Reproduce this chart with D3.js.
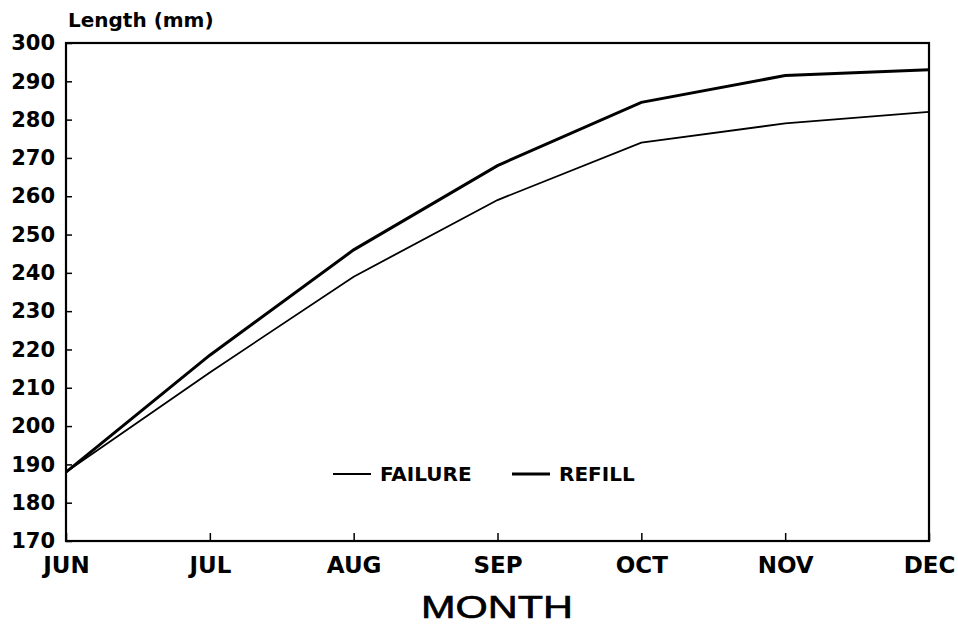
<!DOCTYPE html>
<html>
<head>
<meta charset="utf-8">
<script src="https://cdn.jsdelivr.net/npm/d3@7"></script>
<style>
  body { margin: 0; background: #fff; }
  svg { display: block; }
</style>
</head>
<body>
<div id="areaDibujo"></div>
<script>
// datos
var meses = ['JUN', 'JUL', 'AUG', 'SEP', 'OCT', 'NOV', 'DEC'];
var failure = [188, 214, 239, 259, 274, 279, 282];
var refill = [188, 218.5, 246, 268, 284.5, 291.5, 293];
var yTicks = [170, 180, 190, 200, 210, 220, 230, 240, 250, 260, 270, 280, 290, 300];

var width = 958;
var height = 624;
var xIni = 66, xFin = 929, yIni = 43, yFin = 541;
var fuente = '"DejaVu Sans", Arial, sans-serif';

var svg = d3.select('#areaDibujo').append('svg')
  .attr('width', width)
  .attr('height', height);

var x = d3.scalePoint().domain(meses).range([xIni, xFin]);
var y = d3.scaleLinear().domain([170, 300]).range([yFin, yIni]);

// eje y
var ejeY = svg.append('g')
  .attr('transform', 'translate(' + xIni + ',0)')
  .call(d3.axisLeft(y).tickValues(yTicks).tickSizeInner(-6).tickSizeOuter(0).tickPadding(11));
ejeY.select('.domain').remove();
ejeY.selectAll('line').attr('stroke', '#000').attr('stroke-width', 1.5);
ejeY.selectAll('text')
  .attr('fill', '#000')
  .style('font-family', fuente)
  .style('font-weight', 'bold')
  .style('font-size', '21px');

// eje x
var ejeX = svg.append('g')
  .attr('transform', 'translate(0,' + yFin + ')')
  .call(d3.axisBottom(x).tickSizeInner(-8).tickSizeOuter(0).tickPadding(16));
ejeX.select('.domain').remove();
ejeX.selectAll('line').attr('stroke', '#000').attr('stroke-width', 1.5);
ejeX.selectAll('text')
  .attr('fill', '#000')
  .style('font-family', fuente)
  .style('font-weight', 'bold')
  .style('font-size', '23px');

// marco
svg.append('rect')
  .attr('x', xIni).attr('y', yIni)
  .attr('width', xFin - xIni).attr('height', yFin - yIni)
  .attr('fill', 'none')
  .attr('stroke', '#000')
  .attr('stroke-width', 2.2);

var linea = d3.line()
  .x(function(d, i) { return x(meses[i]); })
  .y(function(d) { return y(d); });

svg.append('path')
  .datum(failure)
  .attr('d', linea)
  .attr('fill', 'none')
  .attr('stroke', '#000')
  .attr('stroke-width', 1.8);

svg.append('path')
  .datum(refill)
  .attr('d', linea)
  .attr('fill', 'none')
  .attr('stroke', '#000')
  .attr('stroke-width', 3);

// titulo eje y
svg.append('text')
  .attr('x', 68).attr('y', 27)
  .text('Length (mm)')
  .style('font-family', fuente)
  .style('font-weight', 'bold')
  .style('font-size', '20px');

// titulo eje x
svg.append('text')
  .attr('x', 497).attr('y', 618)
  .text('MONTH')
  .attr('textLength', 152)
  .attr('lengthAdjust', 'spacingAndGlyphs')
  .style('text-anchor', 'middle')
  .style('font-family', 'Arial, "Liberation Sans", sans-serif')
  .style('font-size', '31px')
  .attr('stroke', '#000')
  .attr('stroke-width', 0.6);

// leyenda
var leyenda = [
  { nombre: 'FAILURE', x1: 333, w: 1.8 },
  { nombre: 'REFILL', x1: 512, w: 3 }
];
var ley = svg.selectAll('.ley').data(leyenda).enter().append('g').attr('class', 'ley');
ley.append('line')
  .attr('x1', function(d) { return d.x1; })
  .attr('x2', function(d) { return d.x1 + 38; })
  .attr('y1', 474).attr('y2', 474)
  .attr('stroke', '#000')
  .attr('stroke-width', function(d) { return d.w; });
ley.append('text')
  .attr('x', function(d) { return d.x1 + 47; })
  .attr('y', 481)
  .text(function(d) { return d.nombre; })
  .style('font-family', fuente)
  .style('font-weight', 'bold')
  .style('font-size', '20px');
</script>
</body>
</html>
